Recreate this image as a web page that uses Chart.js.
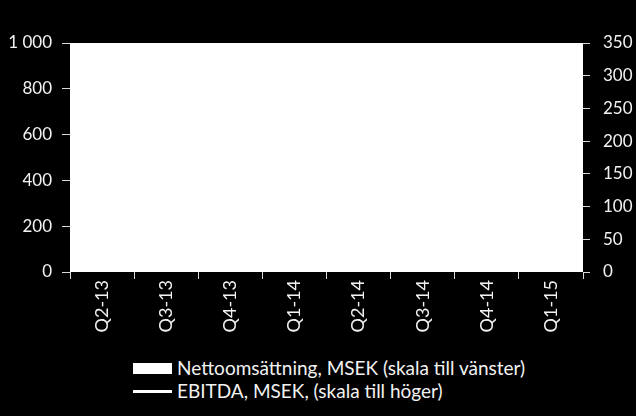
<!DOCTYPE html>
<html>
<head>
<meta charset="utf-8">
<script src="https://cdn.jsdelivr.net/npm/chart.js@4/dist/chart.umd.min.js"></script>
<style>
  html, body { margin: 0; padding: 0; background: #000; }
  #wrap { position: relative; width: 636px; height: 416px; background: #000; overflow: hidden; }
  #chart { position: absolute; left: 0; top: 0; }
  .leg { position: absolute; left: 133px; font-family: Lato, 'Noto Sans', sans-serif; font-size: 19px; line-height: 22px; color: #f2f2f2; white-space: nowrap; }
  .leg .box { position: absolute; left: 0; top: 6px; width: 39px; height: 11px; background: #fff; }
  .leg .line { position: absolute; left: 0; top: 10px; width: 39px; height: 3px; background: #fff; }
  .leg span { position: absolute; left: 44px; top: 0; }
</style>
</head>
<body>
<div id="wrap">
  <canvas id="chart" width="636" height="345"></canvas>
  <div class="leg" style="top:357px"><div class="box"></div><span>Nettoomsättning, MSEK (skala till vänster)</span></div>
  <div class="leg" style="top:380px"><div class="line"></div><span>EBITDA, MSEK, (skala till höger)</span></div>
</div>
<script>
// kvartal
const quarters = ['Q2-13', 'Q3-13', 'Q4-13', 'Q1-14', 'Q2-14', 'Q3-14', 'Q4-14', 'Q1-15'];
// serierna är vita på vit yta i originalet, värdena är uppskattningar
const nettoomsattning = [620, 590, 700, 640, 680, 650, 760, 720];
const ebitda = [110, 95, 140, 120, 135, 125, 170, 150];
// skalor
const leftTicks = [0, 200, 400, 600, 800, 1000];
const rightTicks = [0, 50, 100, 150, 200, 250, 300, 350];

const textColor = '#f2f2f2';
const tickFont = { family: 'Lato', size: 17 };

const plotBackground = {
    id: 'plotBackground',
    beforeDraw(chart) {
        const { ctx, chartArea } = chart;
        ctx.save();
        ctx.fillStyle = '#000';
        ctx.fillRect(0, 0, chart.width, chart.height);
        ctx.fillStyle = '#fff';
        ctx.fillRect(chartArea.left, chartArea.top, chartArea.right - chartArea.left, chartArea.bottom - chartArea.top);
        ctx.restore();
    }
};

const fmt = v => String(v).replace(/\B(?=(\d{3})+(?!\d))/g, ' ');

new Chart(document.getElementById('chart').getContext('2d'), {
    data: {
        labels: quarters,
        datasets: [
            {
                type: 'line',
                label: 'EBITDA, MSEK, (skala till höger)',
                data: ebitda,
                yAxisID: 'y1',
                borderColor: '#ffffff',
                borderWidth: 3,
                pointRadius: 0,
                tension: 0
            },
            {
                type: 'bar',
                label: 'Nettoomsättning, MSEK (skala till vänster)',
                data: nettoomsattning,
                yAxisID: 'y',
                backgroundColor: '#ffffff',
                categoryPercentage: 0.6,
                barPercentage: 1
            }
        ]
    },
    options: {
        responsive: false,
        animation: false,
        layout: { padding: { top: 43, left: 0, right: 0, bottom: 0 } },
        plugins: {
            legend: { display: false },
            tooltip: { enabled: false }
        },
        scales: {
            x: {
                offset: true,
                grid: { offset: true, drawOnChartArea: false, drawTicks: true, tickLength: 7, color: '#d9d9d9' },
                border: { display: false },
                ticks: { color: textColor, font: { family: 'Lato', size: 18 }, minRotation: 90, maxRotation: 90, padding: 1 },
                afterFit(s) { s.height = 73; }
            },
            y: {
                position: 'left',
                min: 0,
                max: 1000,
                afterBuildTicks(s) { s.ticks = leftTicks.map(v => ({ value: v })); },
                grid: { drawOnChartArea: false, drawTicks: true, tickLength: 8, color: '#d9d9d9' },
                border: { display: false },
                ticks: { color: textColor, font: tickFont, padding: 10, callback: v => fmt(v) },
                afterFit(s) { s.width = 70; }
            },
            y1: {
                position: 'right',
                min: 0,
                max: 350,
                afterBuildTicks(s) { s.ticks = rightTicks.map(v => ({ value: v })); },
                grid: { drawOnChartArea: false, drawTicks: true, tickLength: 7, color: '#d9d9d9' },
                border: { display: false },
                ticks: { color: textColor, font: tickFont, padding: 13 },
                afterFit(s) { s.width = 53; }
            }
        }
    },
    plugins: [plotBackground]
});
</script>
</body>
</html>
